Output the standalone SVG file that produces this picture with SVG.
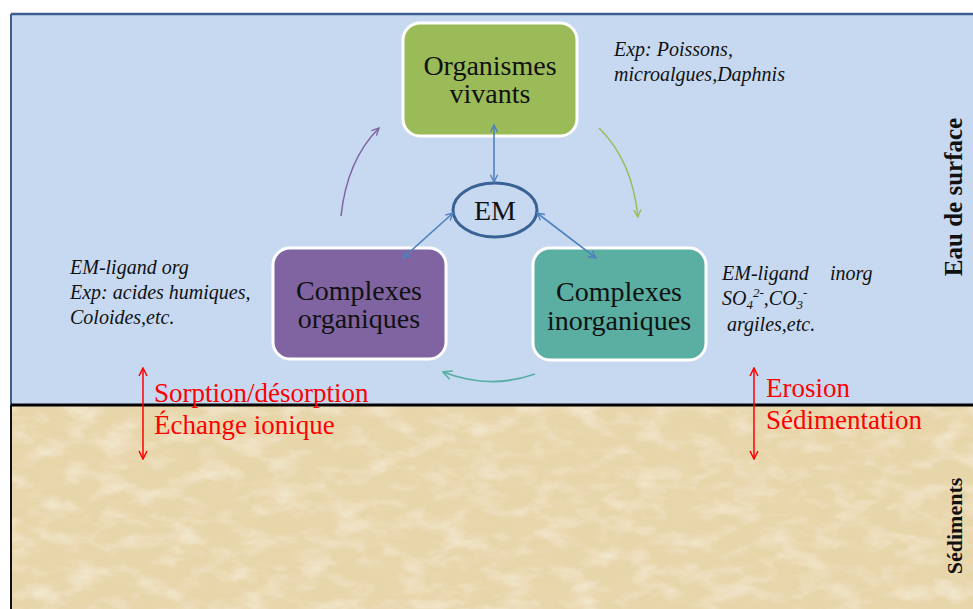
<svg xmlns="http://www.w3.org/2000/svg" width="973" height="609" viewBox="0 0 973 609">
<style>
.node{stroke:#fff;stroke-width:3}
.nt{font-family:"Liberation Serif","Times New Roman",serif;font-size:28px;fill:#111;text-anchor:middle}
.ann{font-family:"Liberation Serif","Times New Roman",serif;font-size:20px;font-style:italic;fill:#111}
.red{font-family:"Liberation Serif","Times New Roman",serif;font-size:27px;fill:#ff0000}
.vert{font-family:"Liberation Serif","Times New Roman",serif;font-weight:bold;fill:#111;text-anchor:middle}
.bl{fill:none;stroke:#4f81bd;stroke-width:1.6}
</style>
<defs>
<marker id="ab" viewBox="0 0 10 10" refX="9" refY="5" markerWidth="9" markerHeight="9" markerUnits="userSpaceOnUse" orient="auto-start-reverse"><path d="M1,1 L9,5 L1,9" fill="none" stroke="#4f81bd" stroke-width="1.5"/></marker>
<marker id="ap" viewBox="0 0 10 10" refX="9" refY="5" markerWidth="9" markerHeight="9" markerUnits="userSpaceOnUse" orient="auto"><path d="M1,1 L9,5 L1,9" fill="none" stroke="#8064a2" stroke-width="1.5"/></marker>
<marker id="ag" viewBox="0 0 10 10" refX="9" refY="5" markerWidth="9" markerHeight="9" markerUnits="userSpaceOnUse" orient="auto"><path d="M1,1 L9,5 L1,9" fill="none" stroke="#9bbb59" stroke-width="1.5"/></marker>
<marker id="at" viewBox="0 0 10 10" refX="9" refY="5" markerWidth="11" markerHeight="11" markerUnits="userSpaceOnUse" orient="auto"><path d="M1,1 L9,5 L1,9" fill="none" stroke="#5aaea6" stroke-width="1.5"/></marker>
<marker id="ar" viewBox="0 0 10 10" refX="9" refY="5" markerWidth="10" markerHeight="10" markerUnits="userSpaceOnUse" orient="auto-start-reverse"><path d="M1,1 L9,5 L1,9" fill="none" stroke="#ff0000" stroke-width="1.5"/></marker>
<filter id="tex" x="0" y="0" width="100%" height="100%" filterUnits="objectBoundingBox">
<feTurbulence type="fractalNoise" baseFrequency="0.03 0.06" numOctaves="4" seed="7" result="n"/>
<feColorMatrix in="n" type="matrix" values="0 0 0 0 0.96  0 0 0 0 0.91  0 0 0 0 0.79  1.3 0 0 0 -0.6" result="light"/>
<feColorMatrix in="n" type="matrix" values="0 0 0 0 0.80  0 0 0 0 0.67  0 0 0 0 0.44  0 -1.3 0 0 0.55" result="dark"/>
<feMerge><feMergeNode in="SourceGraphic"/><feMergeNode in="dark"/><feMergeNode in="light"/></feMerge>
</filter>
</defs>
<rect x="0" y="0" width="973" height="609" fill="#ffffff"/>
<g id="water">
<rect x="11" y="14" width="962" height="391" fill="#c6d9f1"/>
</g>
<g id="sediment">
<rect x="11" y="405" width="962" height="204" fill="#e8d6ab" filter="url(#tex)"/>
</g>
<g id="frame">
<line x1="11" y1="14" x2="973" y2="14" stroke="#3c5f8f" stroke-width="2.5"/>
<line x1="11" y1="14" x2="11" y2="405" stroke="#3c5f8f" stroke-width="2"/>
<line x1="11" y1="405" x2="11" y2="609" stroke="#111" stroke-width="2"/>
<line x1="11" y1="405" x2="973" y2="405" stroke="#000" stroke-width="3"/>
</g>
<g id="organismes">
<rect class="node" x="403" y="23" width="174" height="113" rx="17" fill="#9bbb59"/>
<text class="nt" x="490" y="75">Organismes</text>
<text class="nt" x="490" y="103">vivants</text>
</g>
<g id="em">
<ellipse cx="495" cy="210" rx="42" ry="27" fill="#c6d9f1" stroke="#3a6294" stroke-width="3"/>
<text class="nt" x="495" y="220">EM</text>
</g>
<g id="organiques">
<rect class="node" x="273" y="248" width="173" height="111" rx="17" fill="#8064a2"/>
<text class="nt" x="359" y="300">Complexes</text>
<text class="nt" x="359" y="328">organiques</text>
</g>
<g id="inorganiques">
<rect class="node" x="533" y="248" width="173" height="112" rx="17" fill="#5aaea2"/>
<text class="nt" x="619" y="301">Complexes</text>
<text class="nt" x="619" y="330">inorganiques</text>
</g>
<g id="connectors">
<line class="bl" x1="494" y1="125" x2="494" y2="182" marker-start="url(#ab)" marker-end="url(#ab)"/>
<line class="bl" x1="453" y1="213" x2="403" y2="258" marker-start="url(#ab)" marker-end="url(#ab)"/>
<line class="bl" x1="537" y1="213" x2="596" y2="258" marker-start="url(#ab)" marker-end="url(#ab)"/>
<path d="M341,216 Q347,160 379,128" fill="none" stroke="#8064a2" stroke-width="1.5" marker-end="url(#ap)"/>
<path d="M599,128 Q632,160 638,217" fill="none" stroke="#9bbb59" stroke-width="1.5" marker-end="url(#ag)"/>
<path d="M535,374 Q490,390 443,372" fill="none" stroke="#5aaea6" stroke-width="1.8" marker-end="url(#at)"/>
<line x1="143" y1="368" x2="143" y2="459" stroke="#ff0000" stroke-width="1.5" marker-start="url(#ar)" marker-end="url(#ar)"/>
<line x1="754" y1="368" x2="754" y2="459" stroke="#ff0000" stroke-width="1.5" marker-start="url(#ar)" marker-end="url(#ar)"/>
</g>
<g id="annotations">
<text class="ann" x="614" y="56">Exp: Poissons,</text>
<text class="ann" x="614" y="81">microalgues,Daphnis</text>
<text class="ann" x="70" y="274">EM-ligand org</text>
<text class="ann" x="70" y="299">Exp: acides humiques,</text>
<text class="ann" x="70" y="324">Coloides,etc.</text>
<text class="ann" x="722" y="280">EM-ligand<tspan x="830">inorg</tspan></text>
<text class="ann" x="722" y="305">SO<tspan font-size="13" dy="4">4</tspan><tspan font-size="13" dy="-12">2-</tspan><tspan dy="8">,CO</tspan><tspan font-size="13" dy="4">3</tspan><tspan font-size="13" dy="-12">-</tspan></text>
<text class="ann" x="727" y="331">argiles,etc.</text>
</g>
<g id="labels">
<text class="red" x="154" y="402">Sorption/désorption</text>
<text class="red" x="154" y="434">Échange ionique</text>
<text class="red" x="766" y="397">Erosion</text>
<text class="red" x="766" y="429">Sédimentation</text>
<text class="vert" font-size="25" transform="translate(962,197) rotate(-90)">Eau de surface</text>
<text class="vert" font-size="22" transform="translate(962,526) rotate(-90)">Sédiments</text>
</g>
</svg>
